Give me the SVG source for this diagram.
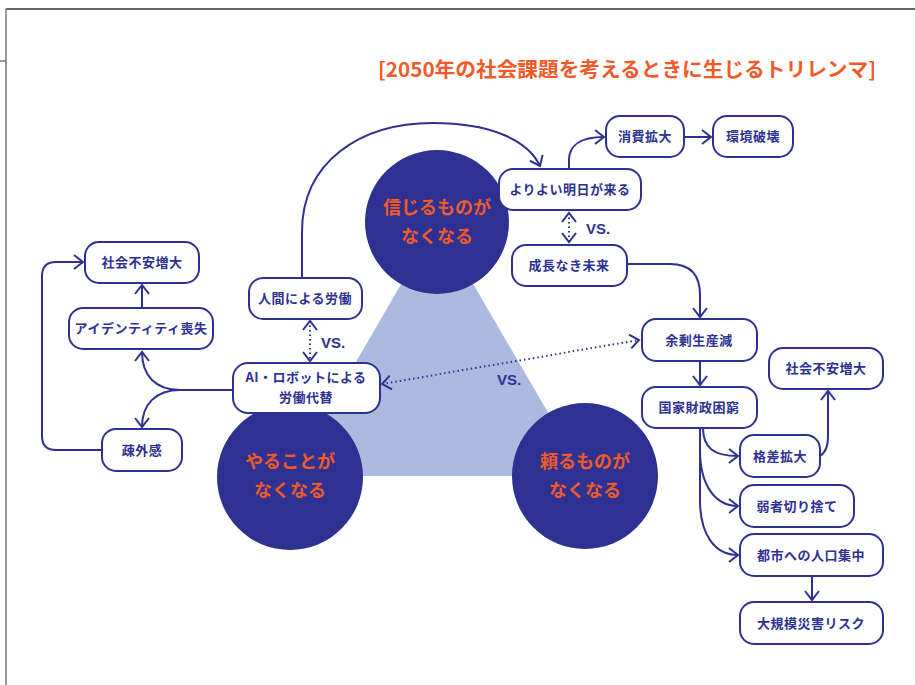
<svg xmlns="http://www.w3.org/2000/svg" width="915" height="685" viewBox="0 0 915 685">
<style>
.box{fill:#fff;stroke:#2E3192;stroke-width:2}
.lbl{font-family:"Noto Sans CJK JP","Noto Sans",sans-serif;font-weight:bold;font-size:13px;fill:#2E3192;text-anchor:middle;letter-spacing:0.5px}
.ctext{font-family:"Noto Sans CJK JP","Noto Sans",sans-serif;font-weight:bold;font-size:18px;fill:#F15A29;text-anchor:middle}
.circ{fill:#2E3192}
.ln{fill:none;stroke:#2E3192;stroke-width:2}
.dot{fill:none;stroke:#2E3192;stroke-width:2;stroke-dasharray:1.5 3}
.vs{font-family:"Liberation Sans",Arial,sans-serif;font-weight:bold;font-size:15px;fill:#2E3192}
</style>
<defs>
<marker id="ah" markerUnits="userSpaceOnUse" markerWidth="12" markerHeight="18" viewBox="-1 -1 12 18" refX="9" refY="7" orient="auto-start-reverse">
<path d="M0,0 L9,7 L0,14" fill="none" stroke="#2E3192" stroke-width="2"/>
</marker>
</defs>
<rect width="915" height="685" fill="#fff"/>
<g id="frame">
<line x1="6" y1="9" x2="915" y2="9" stroke="#333" stroke-width="1.5"/>
<line x1="6" y1="9" x2="6" y2="685" stroke="#777" stroke-width="1.5"/>
<line x1="0" y1="61" x2="6" y2="61" stroke="#777" stroke-width="1.5"/>
</g>
<text id="title" x="378" y="77" textLength="498" lengthAdjust="spacingAndGlyphs" style="font-family:'Noto Sans CJK JP','Noto Sans',sans-serif;font-weight:bold;font-size:20px;fill:#F15A29">[2050年の社会課題を考えるときに生じるトリレンマ]</text>
<polygon id="triangle" points="437,222 290,476 585,476" fill="#ADBADF"/>
<g id="connectors">
<path class="ln" d="M302,278 L302,232 C302,162 360,123 433,123 C490,123 528,140 540,166" marker-end="url(#ah)"/>
<path class="ln" d="M569,169 L569,160 C569,146 580,137 604,137" marker-end="url(#ah)"/>
<path class="ln" d="M684,137 L711,137" marker-end="url(#ah)"/>
<path class="dot" d="M569,213 L569,242" marker-start="url(#ah)" marker-end="url(#ah)"/>
<path class="ln" d="M627,264 L670,264 C690,264 700,275 700,295 L700,317" marker-end="url(#ah)"/>
<path class="ln" d="M700,361 L700,385" marker-end="url(#ah)"/>
<path class="ln" d="M703,428 C703,448 714,456 738,456" marker-end="url(#ah)"/>
<path class="ln" d="M700,428 L700,450 C700,485 715,506 738,506" marker-end="url(#ah)"/>
<path class="ln" d="M700,428 L700,500 C700,535 715,555 738,555" marker-end="url(#ah)"/>
<path class="ln" d="M820,456 C826,452 828,446 828,435 L828,391" marker-end="url(#ah)"/>
<path class="ln" d="M812,576 L812,600" marker-end="url(#ah)"/>
<path class="dot" d="M382,384 L639,340" marker-start="url(#ah)" marker-end="url(#ah)"/>
<path class="dot" d="M310,321 L310,361" marker-start="url(#ah)" marker-end="url(#ah)"/>
<path class="ln" d="M233,390 L180,390 C156,390 142,376 142,352" marker-end="url(#ah)"/>
<path class="ln" d="M180,390 C156,390 142,404 142,427" marker-end="url(#ah)"/>
<path class="ln" d="M142,308 L142,285" marker-end="url(#ah)"/>
<path class="ln" d="M102,450 L56,450 Q42,450 42,436 L42,276 Q42,262 56,262 L83,262" marker-end="url(#ah)"/>
</g>
<g id="c-believe"><circle class="circ" cx="437" cy="222" r="72"/><text class="ctext" x="437" y="214">信じるものが</text><text class="ctext" x="437" y="243">なくなる</text></g>
<g id="c-do"><circle class="circ" cx="290" cy="477" r="73"/><text class="ctext" x="290" y="468">やることが</text><text class="ctext" x="290" y="497">なくなる</text></g>
<g id="c-rely"><circle class="circ" cx="585" cy="476" r="73"/><text class="ctext" x="585" y="468">頼るものが</text><text class="ctext" x="585" y="497">なくなる</text></g>
<g id="vs-labels">
<text class="vs" x="586" y="234">VS.</text>
<text class="vs" x="321" y="348">VS.</text>
<text class="vs" x="497" y="385">VS.</text>
</g>
<g id="n-consume"><rect class="box" x="606" y="116" width="78" height="41" rx="14"/><text class="lbl" x="645" y="141">消費拡大</text></g>
<g id="n-env"><rect class="box" x="713" y="116" width="80" height="41" rx="14"/><text class="lbl" x="753" y="141">環境破壊</text></g>
<g id="n-better"><rect class="box" x="499" y="169" width="142" height="41" rx="14"/><text class="lbl" x="570" y="194">よりよい明日が来る</text></g>
<g id="n-nogrowth"><rect class="box" x="512" y="245" width="115" height="41" rx="14"/><text class="lbl" x="569" y="270">成長なき未来</text></g>
<g id="n-surplus"><rect class="box" x="642" y="319" width="115" height="42" rx="14"/><text class="lbl" x="699" y="345">余剰生産減</text></g>
<g id="n-anxiety-r"><rect class="box" x="769" y="348" width="114" height="41" rx="14"/><text class="lbl" x="826" y="373">社会不安増大</text></g>
<g id="n-fiscal"><rect class="box" x="642" y="387" width="115" height="41" rx="14"/><text class="lbl" x="699" y="412">国家財政困窮</text></g>
<g id="n-gap"><rect class="box" x="740" y="435" width="80" height="42" rx="14"/><text class="lbl" x="780" y="461">格差拡大</text></g>
<g id="n-weak"><rect class="box" x="740" y="485" width="114" height="42" rx="14"/><text class="lbl" x="797" y="511">弱者切り捨て</text></g>
<g id="n-urban"><rect class="box" x="740" y="534" width="143" height="42" rx="14"/><text class="lbl" x="811" y="560">都市への人口集中</text></g>
<g id="n-disaster"><rect class="box" x="740" y="602" width="143" height="42" rx="14"/><text class="lbl" x="811" y="628">大規模災害リスク</text></g>
<g id="n-anxiety-l"><rect class="box" x="85" y="242" width="114" height="41" rx="14"/><text class="lbl" x="142" y="267">社会不安増大</text></g>
<g id="n-identity"><rect class="box" x="69" y="308" width="144" height="41" rx="14"/><text class="lbl" x="141" y="333">アイデンティティ喪失</text></g>
<g id="n-alien"><rect class="box" x="102" y="429" width="80" height="42" rx="14"/><text class="lbl" x="142" y="455">疎外感</text></g>
<g id="n-human"><rect class="box" x="249" y="278" width="113" height="41" rx="14"/><text class="lbl" x="305" y="303">人間による労働</text></g>
<g id="n-ai"><rect class="box" x="233" y="363" width="147" height="50" rx="15"/><text class="lbl" x="306" y="382">AI・ロボットによる</text><text class="lbl" x="306" y="402">労働代替</text></g>
</svg>
